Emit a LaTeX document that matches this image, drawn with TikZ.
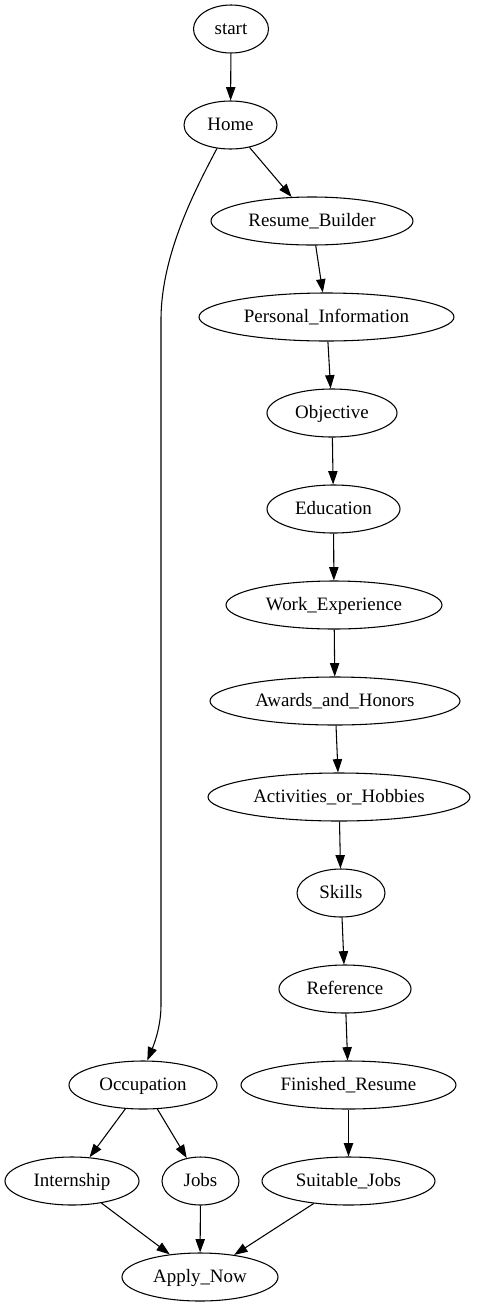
\documentclass[tikz,border=0pt]{standalone}
\usepackage{fontspec}
\setmainfont{Liberation Serif}
\usetikzlibrary{shapes.geometric,arrows.meta}
\begin{document}
\begin{tikzpicture}[x=0.75pt,y=-0.75pt,
  nd/.style={ellipse,draw,line width=0.8pt,inner sep=0pt,minimum height=36pt,text height=11pt,text depth=2.3pt,font=\fontsize{14.2}{16}\selectfont},
  ar/.style={line width=0.8pt,-{Triangle[length=10pt,width=7pt]}}]
\useasboundingbox (0,0) rectangle (476,1307);
\node[nd,minimum width=56.25pt] (start) at (231,29) {start};
\node[nd,minimum width=69.75pt] (Home) at (230.5,125) {Home};
\node[nd,minimum width=151.5pt] (RB) at (312,221) {Resume\_Builder};
\node[nd,minimum width=191.25pt] (PI) at (326.5,317) {Personal\_Information};
\node[nd,minimum width=97.5pt] (Obj) at (332,413) {Objective};
\node[nd,minimum width=99.75pt] (Edu) at (333.5,509) {Education};
\node[nd,minimum width=162pt] (WE) at (334,605) {Work\_Experience};
\node[nd,minimum width=187.5pt] (AH) at (335,701) {Awards\_and\_Honors};
\node[nd,minimum width=196.5pt] (AcH) at (339,797) {Activities\_or\_Hobbies};
\node[nd,minimum width=66pt] (Sk) at (341,893) {Skills};
\node[nd,minimum width=99pt] (Ref) at (345,989) {Reference};
\node[nd,minimum width=161.25pt] (FR) at (348.5,1085) {Finished\_Resume};
\node[nd,minimum width=129.75pt] (SJ) at (348.5,1181) {Suitable\_Jobs};
\node[nd,minimum width=111pt] (Occ) at (143,1085) {Occupation};
\node[nd,minimum width=100.5pt] (Int) at (72,1181) {Internship};
\node[nd,minimum width=57.75pt] (Jobs) at (200.5,1181) {Jobs};
\node[nd,minimum width=117pt] (AN) at (200,1277) {Apply\_Now};
\draw[ar] (start) -- (Home);
\draw[ar] (Home) -- (RB);
\draw[ar] (RB) -- (PI);
\draw[ar] (PI) -- (Obj);
\draw[ar] (Obj) -- (Edu);
\draw[ar] (Edu) -- (WE);
\draw[ar] (WE) -- (AH);
\draw[ar] (AH) -- (AcH);
\draw[ar] (AcH) -- (Sk);
\draw[ar] (Sk) -- (Ref);
\draw[ar] (Ref) -- (FR);
\draw[ar] (FR) -- (SJ);
\draw[ar] (Home.240) .. controls (195,190) and (161,255) .. (161,320) -- (161,1005) .. controls (161,1025) and (155,1042) .. (Occ.80);
\draw[ar] (Occ) -- (Int);
\draw[ar] (Occ) -- (Jobs);
\draw[ar] (Int) -- (AN);
\draw[ar] (Jobs) -- (AN);
\draw[ar] (SJ) -- (AN);
\end{tikzpicture}
\end{document}
